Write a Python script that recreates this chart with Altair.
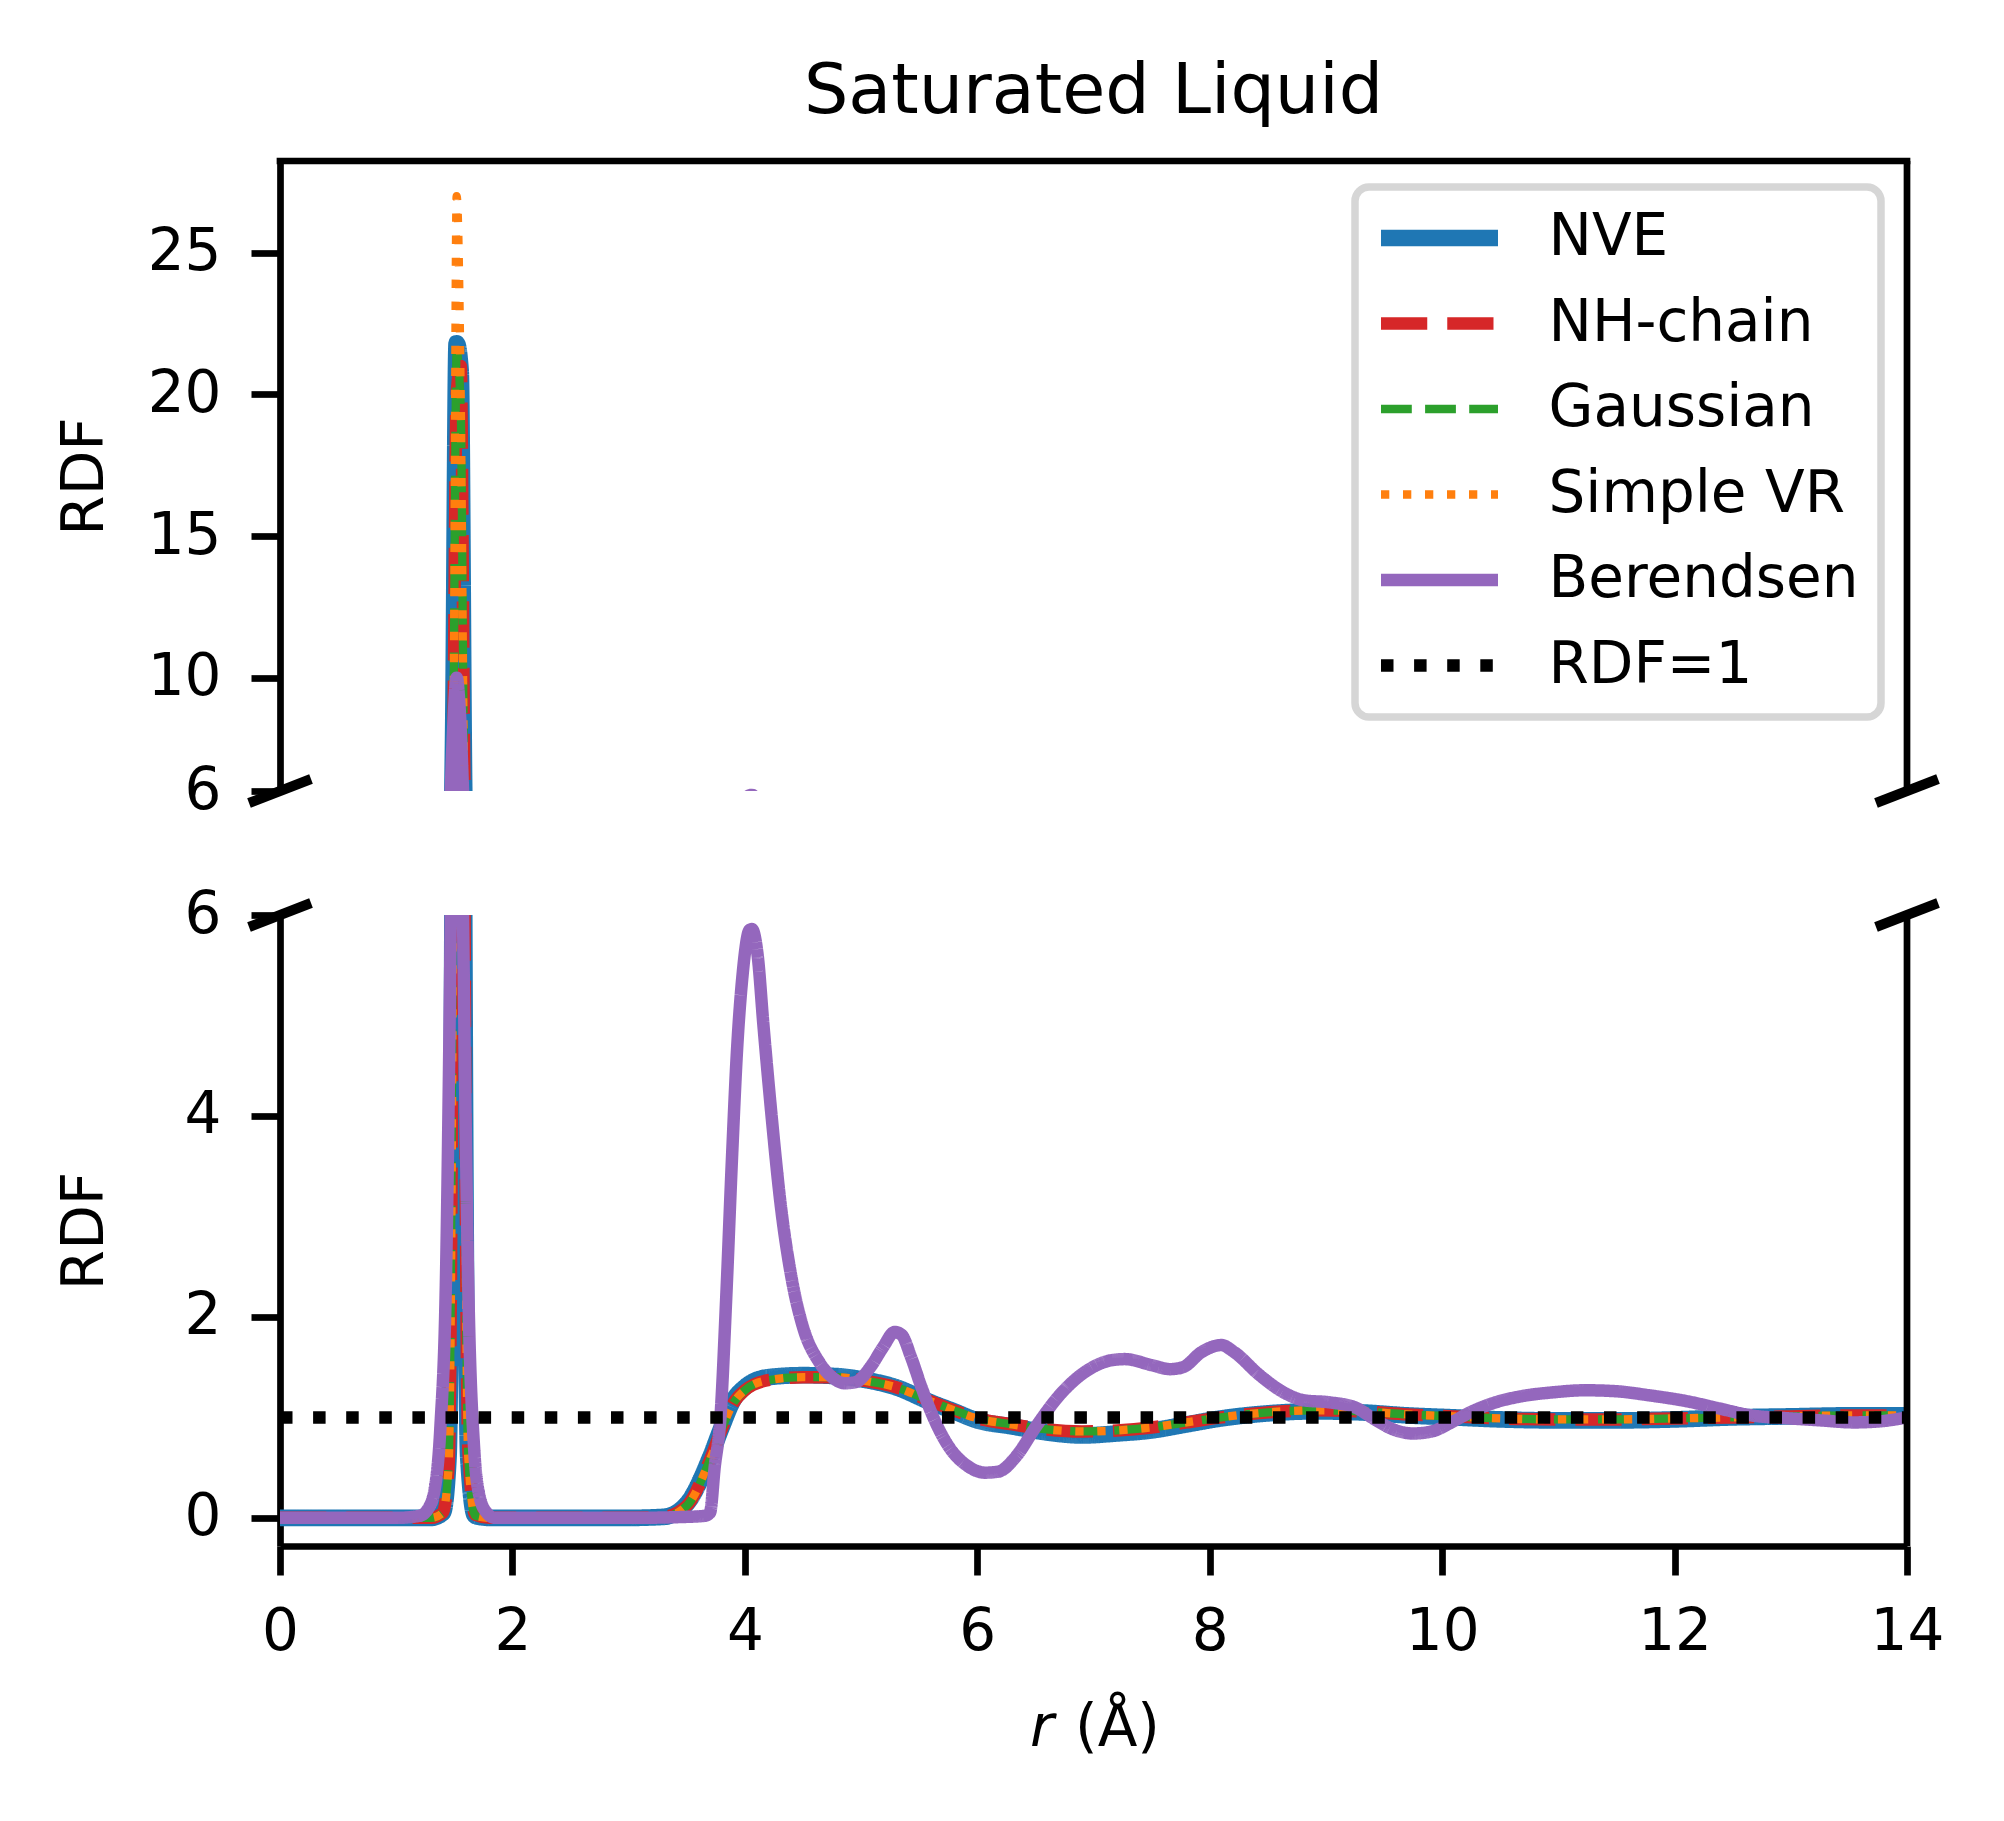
import altair as alt
import pandas as pd

# ---------------- data ----------------
SERIES = ["NVE", "NH-chain", "Gaussian", "Simple VR", "Berendsen", "RDF=1"]
COLORS = ["#1f77b4", "#d62728", "#2ca02c", "#ff7f0e", "#9467bd", "#000000"]

r_common = [0.0, 0.5, 1.0, 1.30, 1.40, 1.45, 1.49, 1.52, 1.555, 1.585, 1.62, 1.68, 1.80,
            2.5, 3.0, 3.3, 3.5, 3.7, 3.8, 3.9, 4.0,
            4.2, 4.5, 4.8, 5.0, 5.3, 5.6, 5.8, 6.0,
            6.3, 6.6, 6.9, 7.2, 7.5, 7.8, 8.1,
            8.5, 8.9, 9.3, 9.7, 10.1, 10.5,
            11.0, 11.5, 12.0, 12.5, 13.0, 13.5, 14.0]

g_nve = [0, 0, 0, 0, 0.05, 0.6, 8.0, 21.8, 20.8, 6.0, 0.6, 0.02, 0,
         0, 0, 0.01, 0.14, 0.6, 0.9, 1.17, 1.3,
         1.4, 1.42, 1.41, 1.38, 1.3, 1.15, 1.06, 0.97,
         0.91, 0.85, 0.82, 0.84, 0.87, 0.93, 0.99,
         1.04, 1.06, 1.05, 1.02, 1.0, 0.98,
         0.97, 0.97, 0.98, 1.0, 1.01, 1.02, 1.02]

g_nh = [0, 0, 0, 0, 0.05, 0.5, 7.0, 20.0, 21.0, 7.0, 0.7, 0.03, 0,
        0, 0, 0.01, 0.12, 0.58, 0.88, 1.14, 1.27,
        1.37, 1.40, 1.40, 1.37, 1.30, 1.16, 1.07, 0.99,
        0.93, 0.88, 0.86, 0.87, 0.90, 0.95, 1.0,
        1.05, 1.07, 1.06, 1.03, 1.01, 0.99,
        0.98, 0.98, 0.99, 1.0, 1.01, 1.02, 1.02]

g_gauss = [0, 0, 0, 0, 0.05, 0.5, 7.5, 21.5, 19.5, 6.0, 0.6, 0.02, 0,
           0, 0, 0.01, 0.12, 0.58, 0.88, 1.14, 1.27,
           1.37, 1.40, 1.40, 1.37, 1.30, 1.16, 1.07, 0.99,
           0.93, 0.88, 0.86, 0.87, 0.90, 0.95, 1.0,
           1.05, 1.07, 1.06, 1.03, 1.01, 0.99,
           0.98, 0.98, 0.99, 1.0, 1.01, 1.02, 1.02]

g_svr = [0, 0, 0, 0, 0.05, 0.5, 6.5, 27.0, 20.0, 6.0, 0.6, 0.02, 0,
         0, 0, 0.01, 0.12, 0.58, 0.88, 1.14, 1.27,
         1.37, 1.40, 1.40, 1.37, 1.30, 1.16, 1.07, 0.99,
         0.93, 0.88, 0.86, 0.87, 0.90, 0.95, 1.0,
         1.05, 1.07, 1.06, 1.03, 1.01, 0.99,
         0.98, 0.98, 0.99, 1.0, 1.01, 1.02, 1.02]

r_ber = [0.0, 0.5, 1.0, 1.20, 1.28, 1.34, 1.38, 1.43, 1.46, 1.49, 1.52, 1.55, 1.58, 1.62,
         1.67, 1.72, 1.78, 1.85, 2.5, 3.0, 3.5, 3.65, 3.70, 3.74, 3.79, 3.84, 3.89, 3.93,
         3.98, 4.04, 4.06, 4.11, 4.16, 4.23, 4.31, 4.40, 4.50, 4.64, 4.75, 4.86, 4.95,
         5.08, 5.19, 5.29, 5.35, 5.43, 5.52, 5.63, 5.76, 5.90, 6.07, 6.18, 6.34, 6.50,
         6.73, 6.95, 7.16, 7.27, 7.50, 7.66, 7.77, 7.93, 8.10, 8.21, 8.43, 8.65, 8.81,
         9.03, 9.25, 9.42, 9.58, 9.75, 9.91, 10.08, 10.24, 10.46, 10.68, 10.96, 11.23,
         11.50, 11.78, 12.11, 12.38, 12.66, 12.99, 13.26, 13.54, 13.76, 14.0]
g_ber = [0, 0, 0, 0.02, 0.1, 0.35, 0.9, 2.5, 5.0, 8.2, 10.0, 8.6, 5.5, 2.3,
         0.7, 0.2, 0.05, 0.0, 0, 0, 0.01, 0.02, 0.05, 0.5, 1.0, 2.2, 3.6, 4.6,
         5.4, 5.85, 5.86, 5.6, 4.9, 4.0, 3.1, 2.4, 1.9, 1.55, 1.4, 1.34, 1.35,
         1.5, 1.7, 1.85, 1.82, 1.6, 1.3, 0.98, 0.7, 0.53, 0.45, 0.46, 0.62, 0.9,
         1.25, 1.47, 1.57, 1.58, 1.52, 1.48, 1.5, 1.65, 1.72, 1.65, 1.42, 1.24, 1.17,
         1.15, 1.1, 0.98, 0.88, 0.84, 0.86, 0.95, 1.05, 1.15, 1.21, 1.25, 1.27,
         1.26, 1.22, 1.16, 1.09, 1.02, 0.99, 0.97, 0.95, 0.96, 1.0]

r_ref = [0.0, 14.0]
g_ref = [1.0, 1.0]

TITLE = "Saturated Liquid"
YLABEL = "RDF"

# ---------------- styles ----------------
DASHES = [[1, 0], [46.25, 20], [30.8, 13.3], [8.3, 13.7], [1, 0], [12.5, 20.6]]
WIDTHS = [16.7, 12.5, 8.3, 8.3, 12.5, 12.5]

W = 1627
H_TOP = 630
H_BOT = 631
SPINE = 6.7
FONT = "DejaVu Sans"

rows = []
for name, rs, gs in [("NVE", r_common, g_nve), ("NH-chain", r_common, g_nh),
                     ("Gaussian", r_common, g_gauss), ("Simple VR", r_common, g_svr),
                     ("Berendsen", r_ber, g_ber), ("RDF=1", r_ref, g_ref)]:
    for r, g in zip(rs, gs):
        rows.append({"series": name, "r": r, "g": g})
df = pd.DataFrame(rows)
one = pd.DataFrame({"k": [0]})

color_scale = alt.Scale(domain=SERIES, range=COLORS)
dash_scale = alt.Scale(domain=SERIES, range=DASHES)

sw_expr = ("datum.value == 'NVE' ? 16.7 : ((datum.value == 'Gaussian' || "
           "datum.value == 'Simple VR') ? 8.3 : 12.5)")


def panel(ydomain, yticks, height, top):
    xaxis = None if top else alt.Axis(values=list(range(0, 15, 2)), title=None,
                                      labelPadding=28, labelFlush=False)
    base = alt.Chart(df).encode(
        x=alt.X("r:Q", scale=alt.Scale(domain=[0, 14], nice=False, zero=False), axis=xaxis),
        y=alt.Y("g:Q", scale=alt.Scale(domain=ydomain, nice=False, zero=False),
                axis=alt.Axis(values=yticks, title=YLABEL, titleX=-178, titleY=height / 2,
                              titleAngle=270, titleAlign="center",
                              titleBaseline="alphabetic",
                              labelPadding=30, labelFlush=False)),
    )
    if top:
        legend = alt.Legend(
            title=None, orient="top-right", offset=26,
            symbolType="stroke", symbolSize=13689, symbolOffset=33.5,
            clipHeight=58, rowPadding=27.5, labelOffset=80, padding=22,
            labelLimit=0,
            symbolStrokeWidth=alt.ExprRef(expr=sw_expr),
        )
    else:
        legend = None
    layers = []
    for i, name in enumerate(SERIES):
        layers.append(
            base.transform_filter(alt.datum.series == name)
            .mark_line(clip=True, strokeWidth=WIDTHS[i], strokeJoin="round",
                       interpolate="monotone")
            .encode(
                color=alt.Color("series:N", scale=color_scale, legend=legend),
                strokeDash=alt.StrokeDash("series:N", scale=dash_scale, legend=legend),
            )
        )
    deco = alt.Chart(one)
    # right spine
    layers.append(deco.mark_rule(color="black", strokeWidth=SPINE).encode(
        x=alt.value(W), y=alt.value(0), y2=alt.value(height)))
    if top:
        layers.append(deco.mark_rule(color="black", strokeWidth=SPINE).encode(
            x=alt.value(-SPINE / 2), x2=alt.value(W + SPINE / 2), y=alt.value(0)))
        ybr, ybr2 = height + 12, height - 12
        layers.append(deco.mark_text(text=TITLE, font=FONT, fontSize=70, align="center",
                                     baseline="alphabetic", color="black")
                      .encode(x=alt.value(W / 2), y=alt.value(-48)))
    else:
        ybr, ybr2 = 12, -12
    # axis-break marks
    layers.append(deco.mark_rule(color="black", strokeWidth=10).encode(
        x=alt.value(-31), x2=alt.value(31), y=alt.value(ybr), y2=alt.value(ybr2)))
    layers.append(deco.mark_rule(color="black", strokeWidth=10).encode(
        x=alt.value(W - 31), x2=alt.value(W + 31), y=alt.value(ybr), y2=alt.value(ybr2)))
    if not top:
        layers.append(deco.mark_text(text="r", font=FONT, fontSize=58, fontStyle="italic",
                                     align="left", baseline="alphabetic", color="black")
                      .encode(x=alt.value(750), y=alt.value(height + 200)))
        layers.append(deco.mark_text(text="(Å)", font=FONT, fontSize=58,
                                     align="left", baseline="alphabetic", color="black")
                      .encode(x=alt.value(795), y=alt.value(height + 200)))
    return alt.layer(*layers).properties(width=W, height=height)


top = panel([6, 28.24], [6, 10, 15, 20, 25], H_TOP, True)
bot = panel([-0.28, 6], [0, 2, 4, 6], H_BOT, False)

chart = (
    alt.vconcat(top, bot, spacing=124, bounds="flush")
    .resolve_scale(y="independent", color="independent", strokeDash="independent")
    .resolve_legend(color="independent", strokeDash="independent")
    .properties(padding={"left": 48, "top": 49, "right": 10, "bottom": 10}, background="white")
    .configure_view(stroke=None)
    .configure_axis(labelFont=FONT, labelFontSize=58, titleFont=FONT, titleFontSize=58,
                    titleFontWeight="normal", tickSize=29, tickWidth=SPINE, domainWidth=SPINE,
                    domainColor="black", tickColor="black", labelColor="black",
                    titleColor="black", grid=False)
    .configure_legend(labelFont=FONT, labelFontSize=58, labelColor="black",
                      fillColor="rgba(255,255,255,0.8)", strokeColor="#d6d6d6",
                      strokeWidth=7.5, cornerRadius=14)
)

chart.save("out.html", embed_options={"renderer": "svg", "actions": False})
